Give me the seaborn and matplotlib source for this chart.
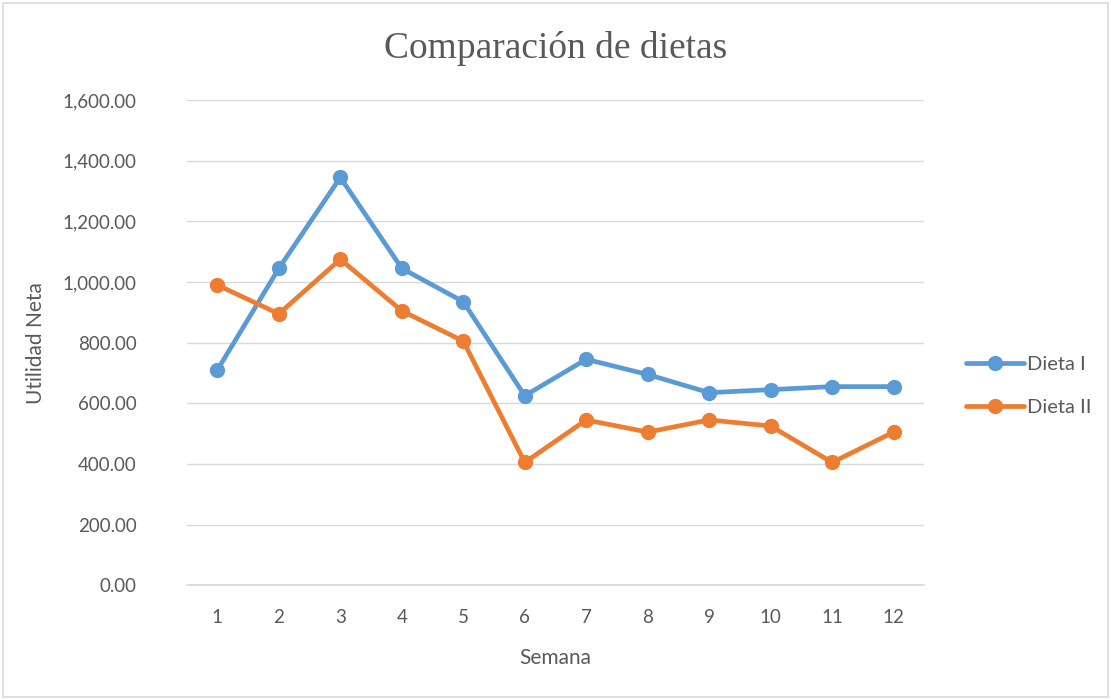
import matplotlib
matplotlib.use("Agg")
from matplotlib import pyplot as plt
from matplotlib.patches import Rectangle
import pandas as pd
import seaborn as sns

semanas = [1, 2, 3, 4, 5, 6, 7, 8, 9, 10, 11, 12]
dieta_1 = [710, 1045, 1345, 1045, 935, 625, 745, 695, 635, 645, 655, 655]
dieta_2 = [990, 895, 1075, 905, 805, 405, 545, 505, 545, 525, 405, 505]
series = ["Dieta I", "Dieta II"]
colores = ["#5B9BD5", "#ED7D31"]
y_ticks = [0, 200, 400, 600, 800, 1000, 1200, 1400, 1600]

df = pd.DataFrame({
    "Semana": [str(s) for s in semanas] * 2,
    "Utilidad": dieta_1 + dieta_2,
    "Dieta": [series[0]] * len(semanas) + [series[1]] * len(semanas),
})

sns.set_theme(style="white")
plt.rcParams['font.family'] = ['Lato', 'DejaVu Sans']
gris = "#595959"

fig = plt.figure(figsize=(11.11, 7), dpi=100)
ax = fig.add_axes([0.168, 0.164, 0.664, 0.693])

sns.lineplot(data=df, x="Semana", y="Utilidad", hue="Dieta", palette=colores,
             marker="o", markersize=11, markeredgewidth=0, linewidth=3.4,
             sort=False, ax=ax)

ax.set_xlim(-0.5, len(semanas) - 0.5)
ax.set_ylim(0, 1600)
ax.set_yticks(y_ticks)
ax.set_yticklabels([f"{v:,.2f}" for v in y_ticks])
ax.grid(axis="y", color="#D9D9D9", linewidth=1)
ax.set_axisbelow(True)
for s in ["top", "right", "left"]:
    ax.spines[s].set_visible(False)
ax.spines["bottom"].set_color("#D9D9D9")
ax.tick_params(axis="both", colors=gris, labelsize=13.5, length=0)
ax.tick_params(axis="y", pad=36)
ax.tick_params(axis="x", pad=17)

ax.set_xlabel("Semana", color=gris, fontsize=15, labelpad=16)
ax.set_ylabel("Utilidad Neta", color=gris, fontsize=15, labelpad=12)
fig.text(0.5, 0.93, "Comparación de dietas", ha="center", va="center",
         color=gris, fontsize=27, family="Liberation Serif")

handles, labels = ax.get_legend_handles_labels()
ax.legend(handles, labels, loc="center left", bbox_to_anchor=(1.045, 0.41),
          borderaxespad=0, frameon=False, fontsize=14.5, labelcolor=gris,
          handlelength=2.9, handletextpad=0.15, labelspacing=1.3)

fig.patches.append(Rectangle((0.003, 0.004), 0.994, 0.992, transform=fig.transFigure,
                             fill=False, edgecolor="#D9D9D9", linewidth=1.2))

fig.savefig("out.png", dpi=100)
